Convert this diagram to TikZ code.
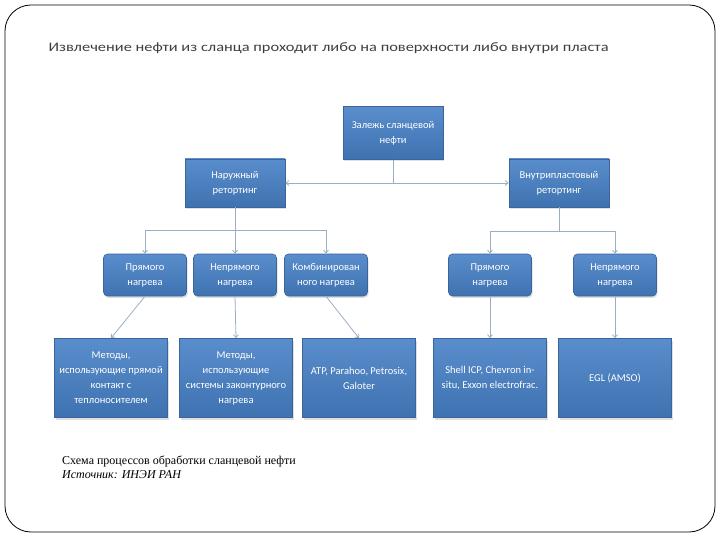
\documentclass[tikz,border=0pt]{standalone}
\usepackage{fontspec}
\setmainfont{Carlito}
\newfontfamily\captionfont{Liberation Serif}
\usepackage{graphicx}
\usetikzlibrary{arrows.meta,shadows}
\definecolor{boxtop}{HTML}{5A8DCB}
\definecolor{boxbottom}{HTML}{3F72B0}
\definecolor{boxedge}{HTML}{3A649A}
\definecolor{linkgray}{HTML}{9CAEC4}
\definecolor{titlegray}{HTML}{3F3F3F}

\begin{document}
\begin{tikzpicture}[x=1pt,y=-1pt,
  box/.style={draw=boxedge,line width=0.6pt,top color=boxtop,bottom color=boxbottom,
    text=white,font=\fontsize{10.5}{15}\selectfont,align=center,inner sep=2pt,
    drop shadow={opacity=0.25,shadow xshift=1pt,shadow yshift=-2pt}},
  topbox/.style={box,minimum width=100pt,minimum height=48pt},
  midbox/.style={box,rounded corners=4pt,minimum width=83pt,minimum height=42pt},
  lowbox/.style={box,minimum width=113pt,minimum height=79pt},
  link/.style={draw=linkgray,line width=0.8pt},
  arrow/.style={link,-{Straight Barb[length=3pt,width=5pt]}}]
  \useasboundingbox (0,0) rectangle (720,540);
  % frame
  \draw[line width=0.8pt,rounded corners=26pt] (5,5) rectangle (715,532);
  \node[anchor=west,text=titlegray,font=\fontsize{13}{15}\selectfont] (title) at (45,48)
    {\resizebox{560pt}{\height}{Извлечение нефти из сланца проходит либо на поверхности либо внутри пласта}};
  % level 0 and 1
  \node[topbox,minimum height=53pt] (deposit) at (393,133) {Залежь сланцевой\\нефти};
  \node[topbox] (outer) at (235,183) {Наружный\\ретортинг};
  \node[topbox] (inner) at (559,183) {Внутрипластовый\\ретортинг};
  \draw[arrow] (deposit.south) |- (outer.east);
  \draw[arrow] (deposit.south) |- (inner.west);
  % level 2
  \node[midbox] (outdirect) at (145,275) {Прямого\\нагрева};
  \node[midbox] (outindirect) at (235,275) {Непрямого\\нагрева};
  \node[midbox] (outmixed) at (326,275) {Комбинирован\\ного нагрева};
  \node[midbox] (indirect) at (490,275) {Прямого\\нагрева};
  \node[midbox] (inindirect) at (615,275) {Непрямого\\нагрева};
  \draw[link] (outer.south) -- ++(0,23) coordinate (outfork);
  \draw[arrow] (outfork) -| (outdirect.north);
  \draw[arrow] (outfork) -- (outindirect.north);
  \draw[arrow] (outfork) -| (outmixed.north);
  \draw[link] (inner.south) -- ++(0,24) coordinate (infork);
  \draw[arrow] (infork) -| (indirect.north);
  \draw[arrow] (infork) -| (inindirect.north);
  % level 3
  \node[lowbox] (contact) at (111,378) {Методы,\\использующие прямой\\контакт с\\теплоносителем};
  \node[lowbox] (external) at (236,378) {Методы,\\использующие\\системы законтурного\\нагрева};
  \node[lowbox] (atp) at (359,378) {ATP, Parahoo, Petrosix,\\Galoter};
  \node[lowbox] (shell) at (490,378) {Shell ICP, Chevron in-\\situ, Exxon electrofrac.};
  \node[lowbox] (egl) at (615,378) {EGL (AMSO)};
  \draw[arrow] (outdirect.south) -- (contact.north);
  \draw[arrow] (outindirect.south) -- (external.north);
  \draw[arrow] (outmixed.south) -- (atp.north);
  \draw[arrow] (indirect.south) -- (shell.north);
  \draw[arrow] (inindirect.south) -- (egl.north);
  % caption
  \node[anchor=north west,align=left,inner sep=0pt,font=\captionfont\fontsize{12}{14}\selectfont] (caption) at (62,456)
    {Схема процессов обработки сланцевой нефти\\\textit{Источник: ИНЭИ РАН}};
\end{tikzpicture}
\end{document}
